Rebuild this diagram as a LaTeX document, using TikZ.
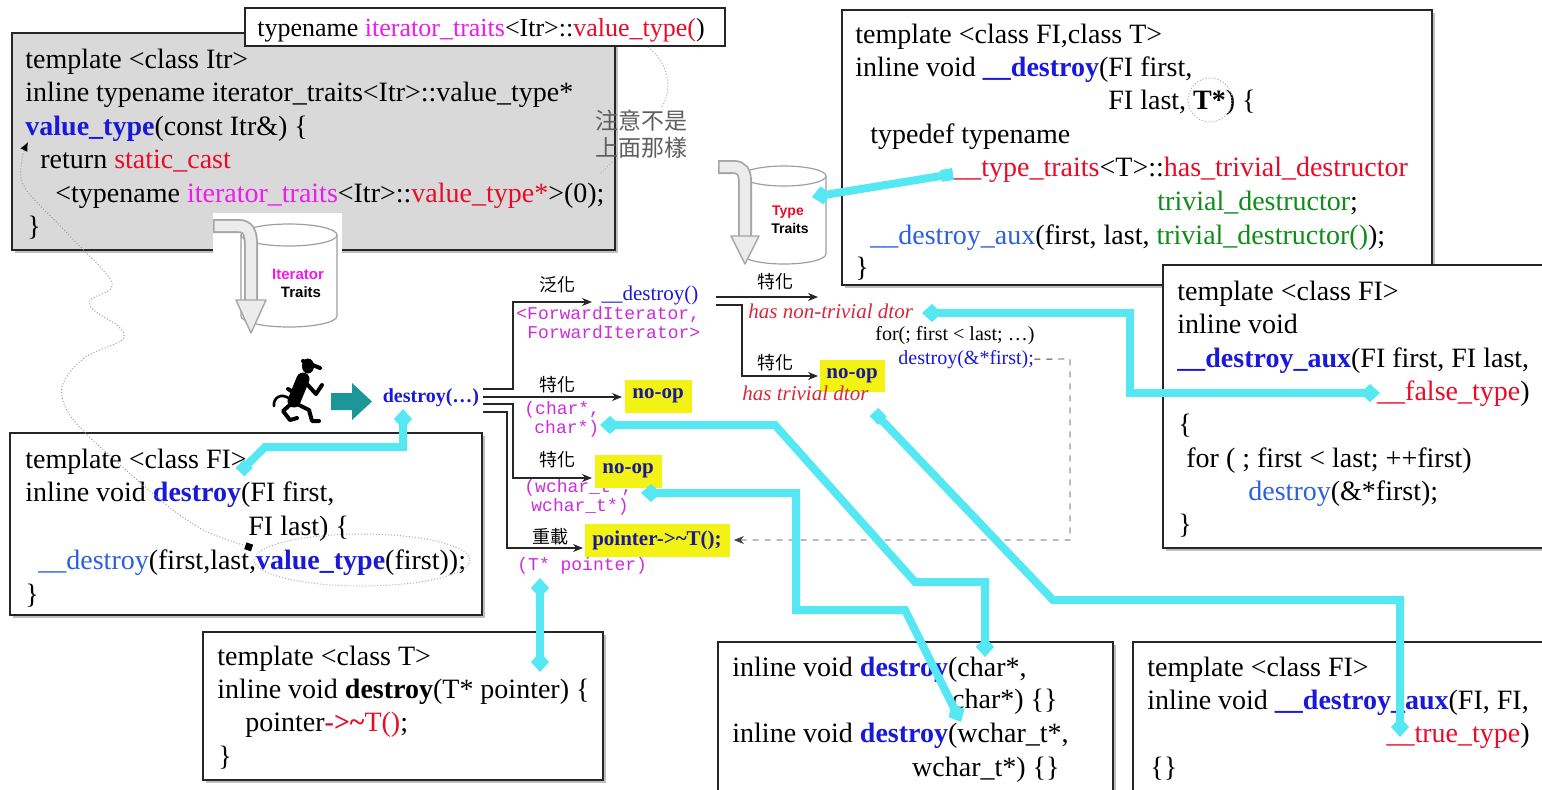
\documentclass[tikz,border=0pt]{standalone}
\usepackage{fontspec}
\setmainfont{Liberation Serif}
\setsansfont{Liberation Sans}
\setmonofont{Liberation Mono}
\newfontfamily\cjkfont{Noto Sans CJK TC}
\usetikzlibrary{arrows.meta,fit,shadows}

\definecolor{linkcyan}{RGB}{85,232,242}
\definecolor{markyellow}{RGB}{242,242,20}
\definecolor{fnblue}{RGB}{25,25,215}
\definecolor{auxblue}{RGB}{45,95,225}
\definecolor{kwred}{RGB}{232,12,40}
\definecolor{trmagenta}{RGB}{240,25,240}
\definecolor{dtgreen}{RGB}{15,140,25}
\definecolor{argviolet}{RGB}{205,45,220}
\definecolor{opnavy}{RGB}{25,25,150}
\definecolor{runteal}{RGB}{28,150,150}
\definecolor{dtorred}{RGB}{215,40,60}
\definecolor{notegray}{RGB}{95,95,95}

\newcommand{\codesize}{\fontsize{14}{17}\selectfont}
\newcommand{\cfnb}[1]{\textcolor{fnblue}{\textbf{#1}}}
\newcommand{\caux}[1]{\textcolor{auxblue}{#1}}
\newcommand{\ckw}[1]{\textcolor{kwred}{#1}}
\newcommand{\ctrt}[1]{\textcolor{trmagenta}{#1}}
\newcommand{\cdtor}[1]{\textcolor{dtgreen}{#1}}

\tikzset{
  codebox/.style={draw=black!85, line width=1.1pt, fill=white, inner sep=0pt,
    drop shadow={shadow xshift=1.6pt, shadow yshift=-1.6pt, fill=black!50, opacity=0.5}},
  graybox/.style={codebox, fill=gray!30},
  labelbox/.style={draw=black!85, line width=0.8pt, fill=white, inner sep=0pt},
  code/.style={anchor=base west, inner sep=0pt, font=\codesize},
  coder/.style={anchor=base east, inner sep=0pt, font=\codesize},
  branchlbl/.style={inner sep=0pt, font=\cjkfont\fontsize{9}{10}\selectfont},
  argtxt/.style={anchor=base west, inner sep=0pt, text=argviolet, font=\ttfamily\fontsize{9}{10}\selectfont},
  flow/.style={draw=black!85, line width=0.55pt, -{Stealth[length=5pt,width=4pt]}},
  opbox/.style={fill=markyellow, inner sep=0pt, text=opnavy, font=\bfseries\fontsize{10.5}{12}\selectfont},
  dtortxt/.style={anchor=base west, inner sep=0pt, text=dtorred, font=\itshape\fontsize{10.5}{12}\selectfont},
  smallcode/.style={anchor=base west, inner sep=0pt, font=\fontsize{10}{12}\selectfont},
  drumtxt/.style={inner sep=0pt, font=\sffamily\bfseries\fontsize{7.5}{9}\selectfont},
  drum/.style={draw=gray!75, line width=0.6pt, fill=white},
  bentarrow/.style={line width=7pt, draw=gray!70},
  bentarrowin/.style={line width=5.2pt, draw=gray!15},
  link/.style={draw=linkcyan, line width=4pt},
  notecurve/.style={draw=gray!65, line width=0.5pt, densely dotted},
  fig/.style={black, line width=2pt, line cap=round, line join=round}
}

\begin{document}
\begin{tikzpicture}[x=0.5pt,y=-0.5pt]
\useasboundingbox (0,0) rectangle (1542,789);
\fill[white] (0,0) rectangle (1542,789);

% ---------- value_type() helper ----------
\node[graybox, fit={(12,33) (615,250)}] (vtbox) {};
\node[code] (vt1) at (25,68) {template <class Itr>};
\node[code] (vt2) at (25,101.5) {inline typename iterator\_traits<Itr>::value\_type*};
\node[code] (vt3) at (25,135) {\cfnb{value\_type}(const Itr\&) \{};
\node[code] (vt4) at (40,168.5) {return \ckw{static\_cast}};
\node[code] (vt5) at (55,202) {<typename \ctrt{iterator\_traits}<Itr>::\ckw{value\_type*}>(0);};
\node[code] (vt6) at (27,235.5) {\}};

\node[labelbox, fit={(245,8) (725,46)}] (tnbox) {};
\node[anchor=base west, inner sep=0pt, font=\fontsize{13}{15}\selectfont] (tn) at (257,36)
  {typename \ctrt{iterator\_traits}<Itr>::\ckw{value\_type(})};

% note beside the helper
\node[inner sep=0pt, align=center, text=notegray, font=\cjkfont\fontsize{11.5}{13.5}\selectfont] (note) at (641,134) {注意不是\\上面那樣};
\coordinate (tnfoot) at (648,47);
\coordinate (notetop) at (661,108);
\draw[notecurve] (tnfoot) .. controls (668,62) and (674,90) .. (notetop);
\coordinate (notefoot) at (612,162);
\coordinate (notetail) at (600,174);
\draw[notecurve] (notefoot) -- (notetail);

% ---------- __destroy(first,last,T*) ----------
\node[codebox, fit={(842,10) (1432,285)}] (gdbox) {};
\node[code] (gd1) at (855,43) {template <class FI,class T>};
\node[code] (gd2) at (855,76) {inline void \cfnb{\_\_destroy}(FI first,};
\node[code] (gd3) at (1108,109) {FI last, \textbf{T*}) \{};
\node[code] (gd4) at (870,143) {typedef typename};
\node[code] (gd5) at (953,176) {\ckw{\_\_type\_traits}<T>::\ckw{has\_trivial\_destructor}};
\node[code] (gd6) at (1157,210) {\cdtor{trivial\_destructor};};
\node[code] (gd7) at (870,244) {\caux{\_\_destroy\_aux}(first, last, \cdtor{trivial\_destructor()});};
\node[code] (gd8) at (855,276) {\}};

% ---------- __destroy_aux(..., __false_type) ----------
\node[codebox, fit={(1163,265) (1552,548)}] (fbox) {};
\node[code] (fa1) at (1177,300) {template <class FI>};
\node[code] (fa2) at (1177,333) {inline void};
\node[code] (fa3) at (1177,367) {\cfnb{\_\_destroy\_aux}(FI first, FI last,};
\node[coder] (fa4) at (1530,400) {\ckw{\_\_false\_type})};
\node[code] (fa5) at (1178,433) {\{};
\node[code] (fa6) at (1186,467) {for ( ; first < last; ++first)};
\node[code] (fa7) at (1248,500) {\caux{destroy}(\&*first);};
\node[code] (fa8) at (1178,533) {\}};

% ---------- destroy(FI,FI) ----------
\node[codebox, fit={(10,433) (482,615)}] (rgbox) {};
\node[code] (rg1) at (25,468) {template <class FI>};
\node[code] (rg2) at (25,501) {inline void \cfnb{destroy}(FI first,};
\node[code] (rg3) at (248,535) {FI last) \{};
\node[code] (rg4) at (38,569) {\caux{\_\_destroy}(first,last,\cfnb{value\_type}(first));};
\node[code] (rg5) at (25,603) {\}};

% ---------- destroy(T*) ----------
\node[codebox, fit={(203,632) (603,780)}] (ptbox) {};
\node[code] (pt1) at (217,665) {template <class T>};
\node[code] (pt2) at (217,698) {inline void \textbf{destroy}(T* pointer) \{};
\node[code] (pt3) at (245,731) {pointer\ckw{\textbf{->\textasciitilde}T()};};
\node[code] (pt4) at (218,765) {\}};

% ---------- destroy(char*), destroy(wchar_t*) ----------
\node[codebox, fit={(718,642) (1113,800)}] (chbox) {};
\node[code] (ch1) at (732,676) {inline void \cfnb{destroy}(char*,};
\node[coder] (ch2) at (1058,708) {char*) \{\}};
\node[code] (ch3) at (732,742) {inline void \cfnb{destroy}(wchar\_t*,};
\node[coder] (ch4) at (1060,776) {wchar\_t*) \{\}};

% ---------- __destroy_aux(..., __true_type) ----------
\node[codebox, fit={(1133,642) (1552,800)}] (tbox) {};
\node[code] (ta1) at (1147,676) {template <class FI>};
\node[code] (ta2) at (1147,709) {inline void \cfnb{\_\_destroy\_aux}(FI, FI,};
\node[coder] (ta3) at (1530,742) {\ckw{\_\_true\_type})};
\node[code] (ta4) at (1150,776) {\{\}};

% ---------- Iterator Traits drum ----------
\fill[white] (213,213) rectangle (342,336);
\draw[drum] (241,235) -- (241,316) arc[start angle=180, end angle=0, x radius=48, y radius=11] -- (337,235);
\draw[drum] (289,235) ellipse [x radius=48, y radius=11];
\node[drumtxt, text=trmagenta] (itr1) at (298,274) {Iterator};
\node[drumtxt] (itr2) at (301,292) {Traits};
\draw[bentarrow] (213,226) -- (238,226) .. controls (248,226) and (251,232) .. (251,245) -- (251,302);
\draw[bentarrowin] (214.5,226) -- (238,226) .. controls (248,226) and (251,232) .. (251,245) -- (251,303);
\draw[draw=gray!70, fill=gray!15, line width=0.7pt, line join=round] (236,300) -- (266,300) -- (251,333) -- cycle;

% ---------- Type Traits drum ----------
\draw[drum] (742,176) -- (742,254) arc[start angle=180, end angle=0, x radius=42, y radius=10] -- (826,176);
\draw[drum] (784,176) ellipse [x radius=42, y radius=10];
\node[drumtxt, text=kwred, font=\sffamily\bfseries\fontsize{7}{8}\selectfont] (ty1) at (788,212) {Type};
\node[drumtxt, font=\sffamily\bfseries\fontsize{7}{8}\selectfont] (ty2) at (790,228) {Traits};
\draw[bentarrow] (718,167) -- (733,167) .. controls (742,167) and (745,172) .. (745,182) -- (745,238);
\draw[bentarrowin] (719.5,167) -- (733,167) .. controls (742,167) and (745,172) .. (745,182) -- (745,239);
\draw[draw=gray!70, fill=gray!15, line width=0.7pt, line join=round] (731,236) -- (759,236) -- (745,264) -- cycle;

% ---------- caller: a running figure and a thick arrow ----------
\fill[black] (308,366) ellipse [x radius=6, y radius=7.5];
\draw[fig] (303,361) -- (320,368);
\draw[black, line width=6.5pt, line cap=round] (303,379) -- (294,401);
\draw[fig] (306,383) -- (316,394) -- (322,385);
\draw[fig] (300,383) -- (293,392) -- (288,389);
\draw[fig] (292,403) -- (283,411) -- (290,420) -- (297,418);
\draw[fig] (297,404) -- (309,410) -- (312,421) -- (319,421);
\draw[black, line width=1.3pt, line cap=round] (290,399) .. controls (281,392) and (273,398) .. (274,406);
\fill[runteal] (331,393) -- (352,393) -- (352,383) -- (372,401.5) -- (352,420) -- (352,410) -- (331,410) -- cycle;

\node[inner sep=0pt, text=fnblue, font=\bfseries\fontsize{10}{12}\selectfont] (dcall) at (431,398) {destroy(…)};

% branches out of destroy(...)
\coordinate (b1) at (483,389);
\coordinate (b2) at (483,397);
\coordinate (b3) at (483,404);
\coordinate (b4) at (483,412);
\coordinate (g1) at (592,302);
\coordinate (s1) at (622,397);
\coordinate (s2) at (592,478);
\coordinate (o1) at (583,548);
\draw[flow] (b1) -- (513,389) -- (513,302) -- (g1);
\draw[flow] (b2) -- (s1);
\draw[flow] (b3) -- (513,404) -- (513,478) -- (s2);
\draw[flow] (b4) -- (507,412) -- (507,548) -- (o1);

\node[branchlbl] (lb1) at (557,285) {泛化};
\node[branchlbl] (lb2) at (557,385) {特化};
\node[branchlbl] (lb3) at (557,460) {特化};
\node[branchlbl] (lb4) at (550,537) {重載};

\node[inner sep=0pt, text=fnblue, font=\fontsize{10.5}{12}\selectfont] (gdes) at (650,295) {\_\_destroy()};
\node[argtxt] (fw1) at (516,319) {<ForwardIterator,};
\node[argtxt] (fw2) at (527,338) {ForwardIterator>};
\node[argtxt] (ca1) at (524,414) {(char*,};
\node[argtxt] (ca2) at (534,433) {char*)};
\node[argtxt] (wa1) at (524,492) {(wchar\_t*,};
\node[argtxt] (wa2) at (531,511) {wchar\_t*)};
\node[argtxt] (pa1) at (517,570) {(T* pointer)};

\node[opbox, minimum width=33.5pt, minimum height=16.5pt] (nop1) at (658,396) {no-op};
\node[opbox, minimum width=33.5pt, minimum height=16.5pt] (nop2) at (628,471) {no-op};
\node[opbox, minimum width=72.5pt, minimum height=16.5pt] (ptr) at (657,540) {pointer->\textasciitilde T();};

% branches out of __destroy()
\coordinate (d1) at (716,297);
\coordinate (d2) at (716,305);
\coordinate (n1) at (818,297);
\coordinate (n2) at (818,376);
\draw[flow] (d1) -- (n1);
\draw[flow] (d2) -- (742,305) -- (742,376) -- (n2);
\node[branchlbl] (lb5) at (775,282) {特化};
\node[branchlbl] (lb6) at (775,363) {特化};
\node[opbox, minimum width=32.5pt, minimum height=16pt] (nop3) at (852,376) {no-op};
\node[dtortxt] (ntd) at (748,318) {has non-trivial dtor};
\node[dtortxt] (td) at (742,400) {has trivial dtor};
\node[smallcode] (loop) at (875,340) {for(; first < last; …)};
\node[smallcode, text=fnblue] (dfirst) at (898,364) {destroy(\&*first);};

% loop body falls back on destroy(T*)
\coordinate (fbk1) at (1070,359);
\coordinate (fbk2) at (1070,540);
\draw[draw=black!75, line width=0.45pt, dashed, -{Stealth[length=5pt,width=4pt]}]
  (dfirst.east) -- (fbk1) -- (fbk2) -- ([xshift=2pt]ptr.east);

% ---------- dotted remarks ----------
\draw[notecurve] (1210,100) circle [radius=22];
\draw[notecurve] (362,560) ellipse [x radius=108, y radius=26];
\coordinate (vtsrc) at (252,548);
\coordinate (vtdst) at (28,142);
\draw[notecurve, draw=gray!75, {Square[length=3.5pt,width=3.5pt,black]}-{Latex[length=4.5pt,width=4pt,black]}]
  plot[smooth, tension=0.55] coordinates {(vtsrc) (187,520) (117,462) (72,418) (62,387) (84,358) (122,340) (118,326) (96,312) (90,300) (112,283) (68,234) (25,188) (22,160) (vtdst)};

% ---------- cyan links ----------
\coordinate (ttsrc) at (953,174);
\coordinate (ttdrum) at (812,197);
\draw[link, {Square[length=6pt,width=6pt]}-{Diamond[length=10pt,width=9pt]}] (ttsrc) -- (ttdrum);

\coordinate (rgsrc) at (240,472);
\coordinate (dcallfoot) at (403,409);
\draw[link, {Square[length=6pt,width=6pt]}-{Diamond[length=10pt,width=9pt]}] (rgsrc) -- (265,447) -- (403,447) -- (dcallfoot);

\coordinate (ntdend) at (922,313);
\coordinate (falseend) at (1380,393);
\draw[link, {Diamond[length=10pt,width=9pt]}-{Diamond[length=10pt,width=9pt]}] (ntdend) -- (1130,313) -- (1130,393) -- (falseend);

\coordinate (tdend) at (874,412);
\coordinate (trueend) at (1400,737);
\draw[link, {Square[length=6pt,width=6pt]}-{Diamond[length=10pt,width=9pt]}] (tdend) -- (1053,600) -- (1400,600) -- (trueend);

\coordinate (chararg) at (600,425);
\coordinate (charfn) at (985,657);
\draw[link, {Diamond[length=10pt,width=9pt]}-{Diamond[length=10pt,width=9pt]}] (chararg) -- (775,425) -- (915,582) -- (985,582) -- (charfn);

\coordinate (wchararg) at (641,493);
\coordinate (wcharfn) at (961,722);
\draw[link, {Diamond[length=10pt,width=9pt]}-{Diamond[length=10pt,width=9pt]}] (wchararg) -- (796,493) -- (796,610) -- (905,610) -- (wcharfn);

\coordinate (ptrarg) at (540,578);
\coordinate (ptrfn) at (540,672);
\draw[link, {Diamond[length=10pt,width=9pt]}-{Diamond[length=10pt,width=9pt]}] (ptrarg) -- (ptrfn);

\end{tikzpicture}
\end{document}
